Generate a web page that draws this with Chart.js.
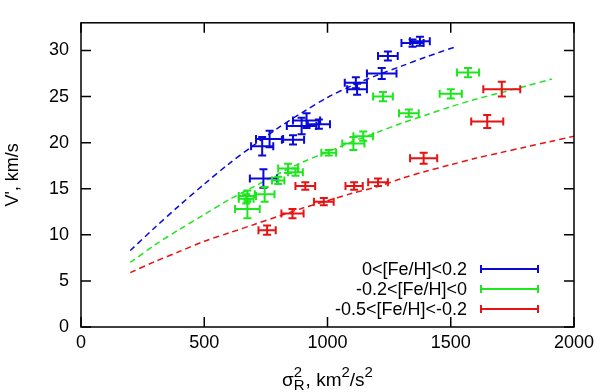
<!DOCTYPE html>
<html>
<head>
<meta charset="utf-8">
<script src="https://cdn.jsdelivr.net/npm/chart.js@4.4.1/dist/chart.umd.min.js"></script>
<style>
    html, body { margin: 0; padding: 0; background: #fff; }
</style>
</head>
<body>
<canvas id="chart" width="600" height="392"></canvas>
<script>
// Series labels and colours
const seriesNames = ['0<[Fe/H]<0.2', '-0.2<[Fe/H]<0', '-0.5<[Fe/H]<-0.2'];
const seriesColors = ['#0a0ad8', '#1ee61e', '#e81212'];

// Measured points (sigma_R^2, V') with errors
const blueX = [1375, 1345, 1245, 1220, 1115, 1120, 965, 915, 895, 860, 765, 735, 740];
const blueY = [31.0, 30.8, 29.4, 27.5, 26.5, 25.8, 22.0, 22.4, 21.8, 20.3, 20.4, 19.6, 16.1];
const blueXErr = [40, 45, 40, 60, 45, 40, 45, 55, 60, 45, 55, 45, 55];
const blueYErr = [0.5, 0.4, 0.5, 0.6, 0.6, 0.6, 0.5, 0.8, 0.9, 0.5, 0.9, 1.0, 1.0];

const greenX = [1570, 1500, 1225, 1330, 1145, 1105, 1005, 870, 840, 800, 745, 675, 670, 675];
const greenY = [27.6, 25.3, 25.0, 23.2, 20.7, 19.9, 18.9, 16.8, 17.2, 15.9, 14.4, 14.2, 13.9, 12.8];
const greenXErr = [45, 45, 40, 40, 40, 45, 30, 30, 40, 25, 40, 35, 30, 50];
const greenYErr = [0.5, 0.5, 0.5, 0.4, 0.5, 0.7, 0.3, 0.4, 0.5, 0.4, 0.8, 0.6, 0.5, 1.0];

const redX = [1707, 1648, 1390, 1205, 1108, 985, 910, 858, 755];
const redY = [25.8, 22.3, 18.3, 15.7, 15.3, 13.6, 15.3, 12.3, 10.5];
const redXErr = [75, 65, 55, 40, 35, 40, 40, 45, 35];
const redYErr = [0.8, 0.7, 0.6, 0.4, 0.4, 0.4, 0.4, 0.5, 0.5];

// Fitted curves (dashed)
const blueCurveX = [200, 300, 400, 500, 600, 700, 800, 900, 1000, 1100, 1200, 1300, 1400, 1520];
const blueCurveY = [8.3, 10.8, 13.2, 15.5, 17.7, 19.7, 21.6, 23.3, 24.9, 26.2, 27.3, 28.3, 29.3, 30.4];
const greenCurveX = [200, 300, 400, 500, 600, 700, 800, 900, 1000, 1100, 1200, 1300, 1400, 1500, 1600, 1700, 1800, 1910];
const greenCurveY = [7.0, 8.9, 10.6, 12.2, 13.8, 15.2, 16.6, 17.9, 19.0, 20.1, 21.1, 22.1, 23.0, 23.9, 24.7, 25.4, 26.1, 26.9];
const redCurveX = [200, 300, 400, 500, 600, 700, 800, 900, 1000, 1100, 1200, 1300, 1400, 1500, 1600, 1700, 1800, 1900, 2000];
const redCurveY = [5.9, 7.1, 8.2, 9.3, 10.2, 11.1, 12.0, 12.9, 13.7, 14.5, 15.2, 16.1, 16.9, 17.6, 18.3, 18.9, 19.5, 20.1, 20.7];

// Axis ticks
const xTicks = [0, 500, 1000, 1500, 2000];
const yTicks = [0, 5, 10, 15, 20, 25, 30];

const FONT = 'Liberation Sans, Arial, Helvetica, sans-serif';

function toPoints(xs, ys, xe, ye) {
    return xs.map((x, i) => ({ x: x, y: ys[i], xe: xe ? xe[i] : 0, ye: ye ? ye[i] : 0 }));
}

function curveDataset(xs, ys, color) {
    return {
        type: 'line',
        data: toPoints(xs, ys),
        borderColor: color,
        borderWidth: 1.5,
        borderDash: [6, 4],
        pointRadius: 0,
        fill: false,
        tension: 0.3,
        errorBars: false
    };
}

function pointDataset(xs, ys, xe, ye, color) {
    return {
        type: 'scatter',
        data: toPoints(xs, ys, xe, ye),
        borderColor: color,
        backgroundColor: color,
        pointRadius: 0,
        errorBars: true
    };
}

// Draw the error crosses with small caps
function drawErrorCross(ctx, cx, x0, x1, cy, y0, y1, cap) {
    ctx.beginPath();
    ctx.moveTo(x0, cy); ctx.lineTo(x1, cy);
    ctx.moveTo(x0, cy - cap); ctx.lineTo(x0, cy + cap);
    ctx.moveTo(x1, cy - cap); ctx.lineTo(x1, cy + cap);
    ctx.moveTo(cx, y0); ctx.lineTo(cx, y1);
    ctx.moveTo(cx - cap, y0); ctx.lineTo(cx + cap, y0);
    ctx.moveTo(cx - cap, y1); ctx.lineTo(cx + cap, y1);
    ctx.stroke();
}

const errorBarPlugin = {
    id: 'errorBarPlugin',
    afterDatasetsDraw(chart) {
        const ctx = chart.ctx;
        const xs = chart.scales.x;
        const ys = chart.scales.y;
        ctx.save();
        ctx.lineWidth = 2;
        chart.data.datasets.forEach(ds => {
            if (!ds.errorBars) return;
            ctx.strokeStyle = ds.borderColor;
            ds.data.forEach(p => {
                const cx = xs.getPixelForValue(p.x);
                const cy = ys.getPixelForValue(p.y);
                drawErrorCross(ctx, cx,
                    xs.getPixelForValue(p.x - p.xe), xs.getPixelForValue(p.x + p.xe),
                    cy, ys.getPixelForValue(p.y - p.ye), ys.getPixelForValue(p.y + p.ye), 4);
            });
        });
        ctx.restore();
    }
};

// Frame, inward ticks, x title and key
const framePlugin = {
    id: 'framePlugin',
    afterDraw(chart) {
        const ctx = chart.ctx;
        const area = chart.chartArea;
        const xs = chart.scales.x;
        const ys = chart.scales.y;
        ctx.save();
        ctx.strokeStyle = '#000';
        ctx.lineWidth = 1.5;
        ctx.strokeRect(area.left, area.top, area.right - area.left, area.bottom - area.top);

        ctx.beginPath();
        xTicks.forEach(v => {
            const px = xs.getPixelForValue(v);
            ctx.moveTo(px, area.bottom); ctx.lineTo(px, area.bottom - 10);
            ctx.moveTo(px, area.top); ctx.lineTo(px, area.top + 10);
        });
        yTicks.forEach(v => {
            const py = ys.getPixelForValue(v);
            ctx.moveTo(area.left, py); ctx.lineTo(area.left + 10, py);
            ctx.moveTo(area.right, py); ctx.lineTo(area.right - 10, py);
        });
        ctx.stroke();

        // x axis title: sigma_R^2, km^2/s^2
        ctx.fillStyle = '#000';
        ctx.textBaseline = 'alphabetic';
        ctx.textAlign = 'left';
        const big = '19px ' + FONT;
        const small = '15px ' + FONT;
        const base = 386;
        const parts = [
            { t: '\u03c3', f: big, dy: 0 },
            { t: 'R', f: small, dy: 4, stack: true },
            { t: '2', f: small, dy: -9 },
            { t: ', km', f: big, dy: 0 },
            { t: '2', f: small, dy: -9 },
            { t: '/s', f: big, dy: 0 },
            { t: '2', f: small, dy: -9 }
        ];
        let total = 0;
        parts.forEach(p => {
            ctx.font = p.f;
            p.w = ctx.measureText(p.t).width;
            if (p.stack) p.w += 1;
        });
        // the R subscript and the 2 superscript share one column
        parts[2].w = Math.max(parts[1].w, parts[2].w);
        parts.forEach(p => { if (!p.stack) total += p.w; });
        let cx = (area.left + area.right) / 2 - total / 2;
        parts.forEach(p => {
            ctx.font = p.f;
            ctx.fillText(p.t, cx, base + p.dy);
            if (!p.stack) cx += p.w;
        });

        // key
        const keyRight = 467;
        const lineX0 = 481;
        const lineX1 = 538;
        const rows = [269, 289, 309];
        ctx.font = '18px ' + FONT;
        ctx.textAlign = 'right';
        ctx.textBaseline = 'middle';
        ctx.lineWidth = 2;
        seriesNames.forEach((name, i) => {
            const y = rows[i];
            ctx.fillStyle = '#000';
            ctx.fillText(name, keyRight, y + 1);
            ctx.strokeStyle = seriesColors[i];
            ctx.beginPath();
            ctx.moveTo(lineX0, y); ctx.lineTo(lineX1, y);
            ctx.moveTo(lineX0, y - 4); ctx.lineTo(lineX0, y + 4);
            ctx.moveTo(lineX1, y - 4); ctx.lineTo(lineX1, y + 4);
            ctx.stroke();
        });
        ctx.restore();
    }
};

const chart = new Chart(document.getElementById('chart'), {
    data: {
        datasets: [
            curveDataset(blueCurveX, blueCurveY, seriesColors[0]),
            curveDataset(greenCurveX, greenCurveY, seriesColors[1]),
            curveDataset(redCurveX, redCurveY, seriesColors[2]),
            pointDataset(blueX, blueY, blueXErr, blueYErr, seriesColors[0]),
            pointDataset(greenX, greenY, greenXErr, greenYErr, seriesColors[1]),
            pointDataset(redX, redY, redXErr, redYErr, seriesColors[2])
        ]
    },
    options: {
        responsive: false,
        animation: false,
        layout: { padding: { left: 0, right: 26, top: 3, bottom: 0 } },
        plugins: {
            legend: { display: false },
            tooltip: { enabled: false }
        },
        scales: {
            x: {
                type: 'linear',
                min: 0,
                max: 2000,
                afterBuildTicks: s => { s.ticks = xTicks.map(v => ({ value: v })); },
                afterFit: s => { s.height = 65; },
                ticks: {
                    color: '#000',
                    font: { size: 18, family: FONT },
                    padding: 5,
                    maxRotation: 0,
                    callback: v => String(v)
                },
                grid: { display: false, drawTicks: false },
                border: { display: false }
            },
            y: {
                type: 'linear',
                min: 0,
                max: 33,
                afterBuildTicks: s => { s.ticks = yTicks.map(v => ({ value: v })); },
                afterFit: s => { s.width = 81; },
                ticks: { color: '#000', font: { size: 18, family: FONT }, padding: 12, callback: v => String(v) },
                grid: { display: false, drawTicks: false },
                border: { display: false },
                title: {
                    display: true,
                    text: "V', km/s",
                    color: '#000',
                    font: { size: 18, family: FONT },
                    padding: { top: 2, bottom: 0 }
                }
            }
        }
    },
    plugins: [errorBarPlugin, framePlugin]
});
</script>
</body>
</html>
